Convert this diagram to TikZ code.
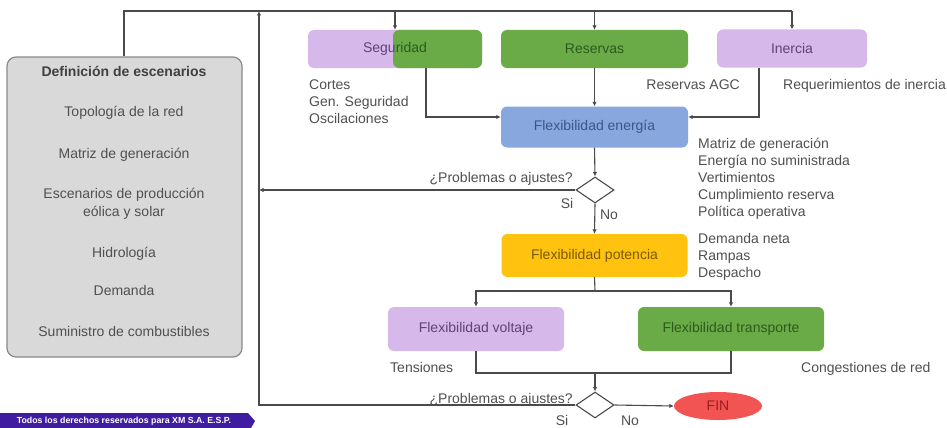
\documentclass[tikz,border=0pt]{standalone}
\usepackage{fontspec}
\setmainfont{Liberation Sans}
\usetikzlibrary{shapes.geometric,arrows.meta}
\definecolor{lav}{HTML}{D6B8EB}
\definecolor{grn}{HTML}{6AAB48}
\definecolor{blu}{HTML}{88A7DF}
\definecolor{yel}{HTML}{FFC20E}
\definecolor{redf}{HTML}{F25454}
\definecolor{lavtxt}{HTML}{5E4474}
\definecolor{grntxt}{HTML}{2E5A1C}
\definecolor{blutxt}{HTML}{3E5585}
\definecolor{yeltxt}{HTML}{7A5A00}
\definecolor{redtxt}{HTML}{9E1E1E}
\definecolor{lbl}{HTML}{505050}
\definecolor{lnc}{HTML}{4A4A4A}
\definecolor{grayf}{HTML}{D9D9D9}
\definecolor{grayd}{HTML}{8A8A8A}
\definecolor{footc}{HTML}{3F1CA0}
\tikzset{
  box/.style={rounded corners=6pt, inner sep=0pt, draw=none},
  lbltext/.style={text=lbl, inner sep=0pt},
  ln/.style={draw=lnc, line width=1.1pt},
  arr/.style={ln, -{Latex[length=4.5pt,width=4.5pt]}},
  dec/.style={diamond, draw=lnc, line width=1.1pt, fill=white, inner sep=0pt, minimum width=38pt, minimum height=26pt}
}
\begin{document}
\begin{tikzpicture}[x=1pt,y=-1pt,font=\fontsize{14}{17}\selectfont]
\useasboundingbox (0,0) rectangle (947,428);
\fill[white] (0,0) rectangle (947,428);

% left definition box
\node[box, rounded corners=9pt, draw=grayd, line width=1.2pt, fill=grayf, minimum width=235pt, minimum height=300pt] (def) at (124.5,207) {};
\node[lbltext, text=black!75, anchor=base, font=\fontsize{14}{17}\selectfont\bfseries] (d0) at (124,77) {Definición de escenarios};
\node[lbltext, anchor=base] (d1t) at (124,116) {Topología de la red};
\node[lbltext, anchor=base] (d2t) at (124,158) {Matriz de generación};
\node[lbltext, anchor=base] (d3t) at (124,198) {Escenarios de producción};
\node[lbltext, anchor=base] (d4t) at (124,216) {eólica y solar};
\node[lbltext, anchor=base] (d5t) at (124,257) {Hidrología};
\node[lbltext, anchor=base] (d6t) at (124,295) {Demanda};
\node[lbltext, anchor=base] (d7t) at (124,336) {Suministro de combustibles};

% top boxes
\node[box, fill=lav, minimum width=174pt, minimum height=38pt] (segP) at (395,49) {};
\node[box, fill=grn, minimum width=89pt, minimum height=38pt] (segG) at (437.5,49) {};
\node[inner sep=0pt] (segtxt) at (395,49) {\color{lavtxt}Segu\color{grntxt}ridad};
\node[box, fill=grn, text=grntxt, minimum width=187pt, minimum height=38pt] (res) at (594.5,49) {Reservas};
\node[box, fill=lav, text=lavtxt, minimum width=150pt, minimum height=38pt] (iner) at (792,48.5) {Inercia};

\node[box, fill=blu, text=blutxt, minimum width=187pt, minimum height=41pt] (flexe) at (594.5,127) {Flexibilidad energía};
\node[box, fill=yel, text=yeltxt, minimum width=186pt, minimum height=43pt] (flexp) at (594.5,255.5) {Flexibilidad potencia};
\node[box, fill=lav, text=lavtxt, minimum width=176pt, minimum height=44pt] (volt) at (476,329) {Flexibilidad voltaje};
\node[box, fill=grn, text=grntxt, minimum width=186pt, minimum height=44pt] (trans) at (731,329) {Flexibilidad transporte};

\node[dec] (q1) at (595,190) {};
\node[dec] (q2) at (595,405) {};
\node[ellipse, fill=redf, text=redtxt, inner sep=0pt, minimum width=88pt, minimum height=28pt] (fin) at (718,406) {FIN};

% labels
\node[lbltext, anchor=base west] (c1) at (309,89) {Cortes};
\node[lbltext, anchor=base west] (c2) at (309,106) {Gen. Seguridad};
\node[lbltext, anchor=base west] (c3) at (309,123) {Oscilaciones};
\node[lbltext, anchor=base east] (ragc) at (740,89) {Reservas AGC};
\node[lbltext, anchor=base west] (rin) at (783,89) {Requerimientos de inercia};
\node[lbltext, anchor=base west] (m1) at (698,148) {Matriz de generación};
\node[lbltext, anchor=base west] (m2) at (698,165) {Energía no suministrada};
\node[lbltext, anchor=base west] (m3) at (698,182) {Vertimientos};
\node[lbltext, anchor=base west] (m4) at (698,199) {Cumplimiento reserva};
\node[lbltext, anchor=base west] (m5) at (698,216) {Política operativa};
\node[lbltext, anchor=base west] (p1) at (698,243) {Demanda neta};
\node[lbltext, anchor=base west] (p2) at (698,260) {Rampas};
\node[lbltext, anchor=base west] (p3) at (698,277) {Despacho};
\node[lbltext, anchor=base west] (ten) at (390,372) {Tensiones};
\node[lbltext, anchor=base west] (cong) at (801,372) {Congestiones de red};
\node[lbltext, anchor=base east] (pq1) at (573,182) {¿Problemas o ajustes?};
\node[lbltext, anchor=base] (si1) at (567,208) {Si};
\node[lbltext, anchor=base] (no1) at (609,219) {No};
\node[lbltext, anchor=base east] (pq2) at (573,403) {¿Problemas o ajustes?};
\node[lbltext, anchor=base] (si2) at (562,425) {Si};
\node[lbltext, anchor=base] (no2) at (630,425) {No};

% connectors
\coordinate (tl) at (124,11);
\coordinate (lt) at (259,11);
\coordinate (ba) at (426,117);
\coordinate (bb) at (759,117);
\coordinate (sp) at (595,291);
\coordinate (mg) at (595,373);

\draw[ln] (def.north -| tl) -- (tl) -- (tl -| iner.north);
\draw[arr] (tl -| segtxt) -- (segtxt |- segP.north);
\draw[arr] (tl -| res) -- (res.north);
\draw[arr] (tl -| iner) -- (iner.north);
\draw[arr] (q2.west) -- (q2.west -| lt) -- (lt);
\draw[arr] (q1.west) -- (q1.west -| lt);
\draw[arr] (ba |- segG.south) -- (ba) -- (ba -| flexe.west);
\draw[arr] (bb |- iner.south) -- (bb) -- (bb -| flexe.east);
\draw[arr] (res.south) -- (flexe.north);
\draw[arr] (flexe.south) -- (q1.north);
\draw[arr] (q1.south) -- (flexp.north);
\draw[ln] (flexp.south) -- (sp);
\draw[arr] (sp) -| (volt.north);
\draw[arr] (sp) -| (trans.north);
\draw[ln] (volt.south) |- (mg) -| (trans.south);
\draw[arr] (mg) -- (q2.north);
\draw[arr] (q2.east) -- (fin.west);

% footer banner
\fill[footc] (0,413) -- (248,413) -- (255,421) -- (251,428) -- (0,428) -- cycle;
\node[text=white, inner sep=0pt, font=\fontsize{8.8}{10}\selectfont\bfseries] (foot) at (124,421) {Todos los derechos reservados para XM S.A. E.S.P.};
\end{tikzpicture}
\end{document}
